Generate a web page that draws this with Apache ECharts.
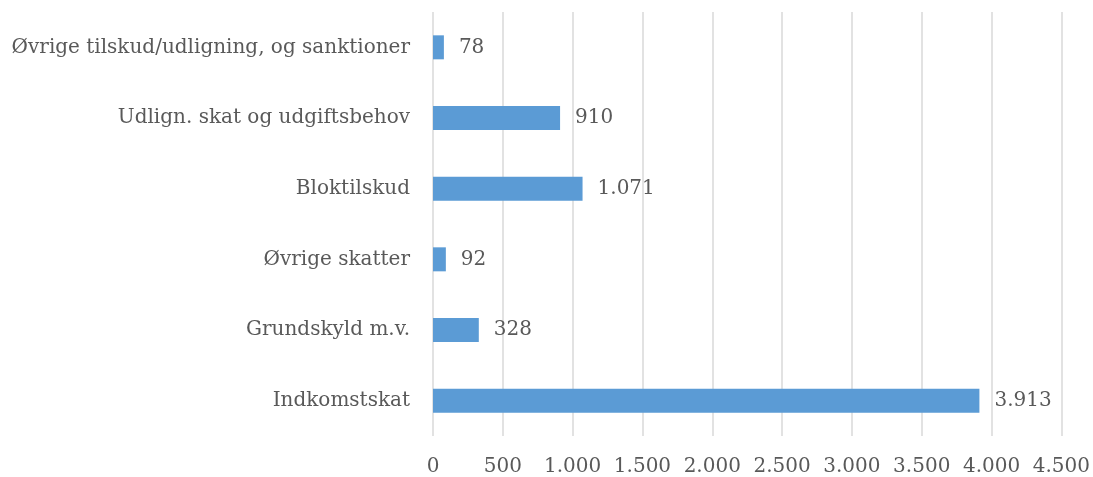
<!DOCTYPE html>
<html>
<head>
<meta charset="utf-8">
<script src="https://cdn.jsdelivr.net/npm/echarts@6/dist/echarts.min.js"></script>
<style>
  html, body { margin: 0; padding: 0; background: #fff; }
  #chart { width: 1093px; height: 477px; }
</style>
</head>
<body>
<div id="chart"></div>
<script>
// categories listed bottom to top
var categories = [
  'Indkomstskat',
  'Grundskyld m.v.',
  'Øvrige skatter',
  'Bloktilskud',
  'Udlign. skat og udgiftsbehov',
  'Øvrige tilskud/udligning, og sanktioner'
];
var values = [3913, 328, 92, 1071, 910, 78];
var axisMax = 4500;
var axisStep = 500;

function fmt(v) {
  return String(v).replace(/\B(?=(\d{3})+(?!\d))/g, '.');
}

var chart = echarts.init(document.getElementById('chart'));
var font = 'DejaVu Serif';
var grey = '#595959';

chart.setOption({
  animation: false,
  grid: { left: 433, right: 30, top: 12, bottom: 40 },
  xAxis: {
    type: 'value',
    min: 0,
    max: axisMax,
    interval: axisStep,
    axisLine: { show: false },
    axisTick: { show: false },
    splitLine: { lineStyle: { color: '#d9d9d9', width: 1.5 } },
    axisLabel: {
      color: grey, fontFamily: font, fontSize: 20, margin: 21,
      formatter: fmt
    }
  },
  yAxis: {
    type: 'category',
    data: categories,
    axisLine: { show: false },
    axisTick: { show: false },
    axisLabel: { color: grey, fontFamily: font, fontSize: 20, margin: 23 }
  },
  series: [{
    type: 'bar',
    data: values,
    barWidth: 24,
    itemStyle: { color: '#5b9bd5' },
    label: {
      show: true,
      position: 'right',
      distance: 15,
      color: grey,
      fontFamily: font,
      fontSize: 20,
      formatter: function (p) { return fmt(p.value); }
    }
  }]
});
</script>
</body>
</html>
